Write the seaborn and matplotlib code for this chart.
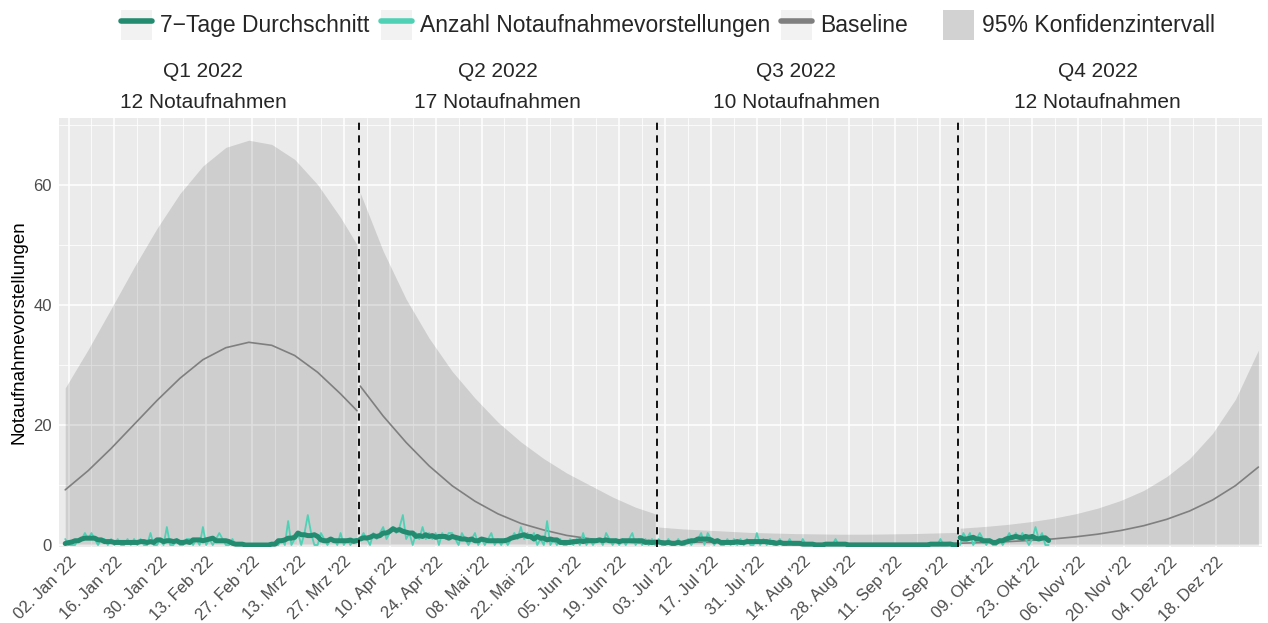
"""
Notaufnahmevorstellungen 2022 mit Baseline und 95% Konfidenzintervall.
"""

import pandas as pd
import matplotlib
matplotlib.use('Agg')
import matplotlib.pyplot as plt
from matplotlib.lines import Line2D
from matplotlib.patches import Rectangle
import seaborn as sns

#=======================================================================
#  Data
#=======================================================================

#  daily counts per quarter (Q4 ends 28. Okt)
q1_counts = [1,0,0,0,1,1,2,1,2,1, 0,1,1,0,1,0,1,0,0,1,
             0,1,0,1,0,0,2,0,0,1, 0,3,0,0,1,0,0,1,1,0,
             1,0,3,0,1,0,1,2,1,0, 0,1,0,0,0,0,0,0,0,0,
             0,0,0,0,0,0,1,0,4,0, 1,2,0,2,5,2,0,0,2,1,
             0,1,1,0,2,0,1,0,1,1]
q2_counts = [1,2,1,0,2,1,2,3,1,2, 3,2,3,5,1,2,0,2,1,3,
             1,2,1,2,0,2,1,2,2,1, 0,2,1,0,1,2,0,1,0,1,
             2,0,1,0,1,0,1,2,1,3, 1,2,1,2,0,1,0,4,0,1,
             0,1,0,0,1,0,1,0,2,0, 1,0,1,1,0,2,1,0,1,0,
             1,0,1,2,0,1,0,1,0,1,0]
q3_counts = [1,0,0,1,0,0,1,0,0,1, 0,1,1,2,0,2,1,0,1,0,
             0,1,0,1,0,1,0,1,0,0, 2,0,1,0,1,0,0,1,0,0,
             1,0,0,0,1,0,0,0,0,0, 0,0,0,0,1,0,0,0,0,0,
             0,0,0,0,0,0,0,0,0,0, 0,0,0,0,0,0,0,0,0,0,
             0,0,0,0,0,0,1,0,0,0, 0,0]
q4_counts = [0,2,1,2,0,1,2,1,0,1, 0,0,1,0,1,2,1,2,1,2,
             1,0,1,3,1,2,0,0]

#  weekly readings of baseline and upper 95% bound (last = quarter end)
q1_base  = [9.2,12.4,16.1,20.1,24.1,27.8,30.9,32.9,33.8,33.3,31.6,28.8,25.2,22.4]
q1_upper = [26.2,32.6,39.4,46.3,52.8,58.6,63.2,66.3,67.5,66.8,64.3,60.1,54.6,50.1]
q2_base  = [26.5,21.5,17.1,13.2,9.9,7.3,5.2,3.6,2.5,1.6,1.05,0.66,0.40,0.26]
q2_upper = [58.7,49.0,41.0,34.5,29.0,24.5,20.5,17.2,14.4,12.0,10.0,8.0,6.3,5.2]
q3_base  = [0.6,0.5,0.45,0.4,0.35,0.3,0.3,0.25,0.25,0.25,0.25,0.25,0.28,0.3]
q3_upper = [3.0,2.7,2.5,2.3,2.1,2.0,1.9,1.85,1.8,1.8,1.85,1.9,2.0,2.1]
q4_base  = [0.3,0.41,0.55,0.75,1.0,1.35,1.81,2.42,3.22,4.28,5.67,7.5,9.9,13.0]
q4_upper = [2.8,3.07,3.41,3.86,4.43,5.18,6.15,7.43,9.1,11.4,14.4,18.6,24.3,32.5]

q_starts = ['2022-01-01','2022-04-01','2022-07-01','2022-10-01']
q_ends   = ['2022-03-31','2022-06-30','2022-09-30','2022-12-31']
q_titles = ['Q1 2022\n12 Notaufnahmen','Q2 2022\n17 Notaufnahmen',
            'Q3 2022\n10 Notaufnahmen','Q4 2022\n12 Notaufnahmen']
q_label_dates = ['2022-02-12','2022-05-13','2022-08-12','2022-11-12']

tick_start = '2022-01-02'
tick_labels = ["02. Jan '22","16. Jan '22","30. Jan '22","13. Feb '22",
               "27. Feb '22","13. Mrz '22","27. Mrz '22","10. Apr '22",
               "24. Apr '22","08. Mai '22","22. Mai '22","05. Jun '22",
               "19. Jun '22","03. Jul '22","17. Jul '22","31. Jul '22",
               "14. Aug '22","28. Aug '22","11. Sep '22","25. Sep '22",
               "09. Okt '22","23. Okt '22","06. Nov '22","20. Nov '22",
               "04. Dez '22","18. Dez '22"]

col_avg = '#238B70'
col_raw = '#4FD1B5'
col_base = '#7F7F7F'

#=======================================================================
#  Build frames
#=======================================================================

counts = [q1_counts,q2_counts,q3_counts,q4_counts]
bases = [q1_base,q2_base,q3_base,q4_base]
uppers = [q1_upper,q2_upper,q3_upper,q4_upper]

daily = []
band = []
for i,start in enumerate(q_starts):
    d = pd.DataFrame({'date': pd.date_range(start,periods=len(counts[i]),freq='D'),
                      'count': counts[i]})
    d['quarter'] = i
    d['avg'] = d['count'].rolling(7,center=True,min_periods=1).mean()
    daily.append(d)

    knots = pd.date_range(start,periods=len(bases[i])-1,freq='7D')
    knots = knots.append(pd.DatetimeIndex([q_ends[i]]))
    b = pd.DataFrame({'date':knots,'base':bases[i],'upper':uppers[i]})
    b['quarter'] = i
    band.append(b)

daily = pd.concat(daily,ignore_index=True)
band = pd.concat(band,ignore_index=True)

#=======================================================================
#  Plot
#=======================================================================

sns.set_style('darkgrid',{'axes.facecolor':'#EBEBEB','grid.color':'white'})
plt.rcParams['font.family'] = ['Liberation Sans','DejaVu Sans']

fig = plt.figure(figsize=(12.68,6.23),dpi=100)
ax = fig.add_axes([59/1268,1-547/623,(1262-59)/1268,(547-118)/623])

for q,grp in band.groupby('quarter'):
    ax.fill_between(grp['date'],0,grp['upper'],color='black',alpha=0.12,lw=0,zorder=1)

sns.lineplot(data=band,x='date',y='base',units='quarter',estimator=None,
             color=col_base,lw=1.2,ax=ax,zorder=2)
sns.lineplot(data=daily,x='date',y='count',units='quarter',estimator=None,
             color=col_raw,lw=1.3,ax=ax,zorder=3)
sns.lineplot(data=daily,x='date',y='avg',units='quarter',estimator=None,
             color=col_avg,lw=3.6,ax=ax,zorder=4)

for s in q_starts[1:]:
    ax.axvline(pd.Timestamp(s)-pd.Timedelta(hours=12),color='black',
               ls=(0,(4,3)),lw=1.3,zorder=5)

#
#  Axes
#

ax.set_xlim(pd.Timestamp('2022-01-01')-pd.Timedelta(days=1.9),
            pd.Timestamp('2022-01-01')+pd.Timedelta(days=365.1))
ax.set_ylim(-0.33,71.2)

ticks = pd.date_range(tick_start,periods=len(tick_labels),freq='14D')
ax.set_xticks(ticks)
ax.set_xticklabels(tick_labels,rotation=45,ha='right',va='top',
                   rotation_mode='anchor')
ax.set_xticks(ticks+pd.Timedelta(days=7),minor=True)
ax.set_yticks([0,20,40,60])
ax.set_yticks([10,30,50,70],minor=True)

ax.grid(which='major',color='white',lw=1.1)
ax.grid(which='minor',color='white',lw=0.55)
ax.tick_params(axis='both',which='major',length=3,width=1,color='#333333',
               labelcolor='#4D4D4D',labelsize=12,pad=2)
ax.tick_params(axis='both',which='minor',length=0)
for sp in ax.spines.values():
    sp.set_visible(False)

ax.set_xlabel('')
ax.set_ylabel('Notaufnahmevorstellungen',fontsize=13.5,color='black',labelpad=4)

#
#  Quarter labels
#

for d,t in zip(q_label_dates,q_titles):
    ax.text(pd.Timestamp(d),1.072,t,transform=ax.get_xaxis_transform(),
            ha='center',va='center',fontsize=15,linespacing=1.75)

#
#  Legends: colour guide and fill guide side by side
#

bg = dict(facecolor='#F2F2F2',edgecolor='none')
line_handles = [
    (Rectangle((0,0),1,1,**bg),Line2D([],[],color=col_avg,lw=4)),
    (Rectangle((0,0),1,1,**bg),Line2D([],[],color=col_raw,lw=4)),
    (Rectangle((0,0),1,1,**bg),Line2D([],[],color=col_base,lw=4)),
    ]
line_labels = ['7\u2212Tage Durchschnitt','Anzahl Notaufnahmevorstellungen','Baseline']

fill_handles = [
    (Rectangle((0,0),1,1,**bg),Rectangle((0,0),1,1,facecolor='black',alpha=0.13,edgecolor='none')),
    ]
fill_labels = ['95% Konfidenzintervall']

opts = dict(frameon=False,fontsize=16.5,handlelength=1.35,handleheight=1.65,
            handletextpad=0.35,columnspacing=0.5,borderpad=0,borderaxespad=0)

fig.legend(line_handles,line_labels,loc='center left',
           bbox_to_anchor=(121/1268,1-25/623),ncol=3,**opts)
fig.legend(fill_handles,fill_labels,loc='center left',
           bbox_to_anchor=(943/1268,1-25/623),ncol=1,**opts)

fig.savefig('out.png',dpi=100)
